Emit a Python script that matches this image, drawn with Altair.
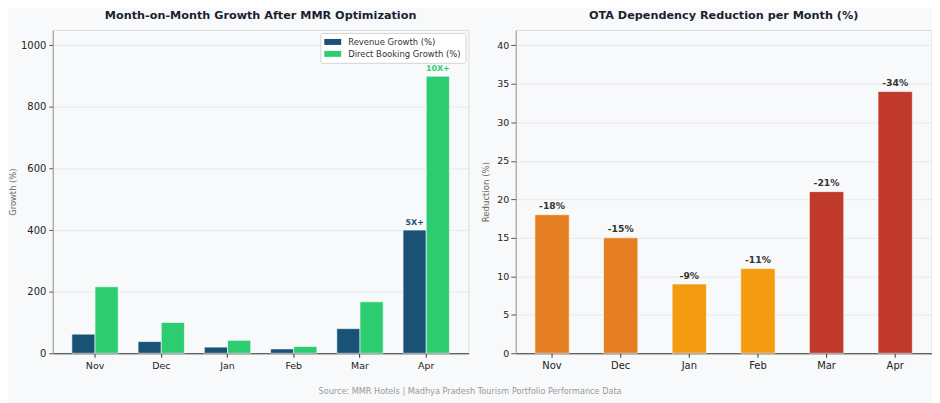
import altair as alt
import pandas as pd

months = ["Nov", "Dec", "Jan", "Feb", "Mar", "Apr"]
revenue_growth = [62, 38, 20, 14, 80, 400]
direct_growth = [216, 100, 42, 22, 167, 900]
series_names = ["Revenue Growth (%)", "Direct Booking Growth (%)"]
series_colors = ["#1A5276", "#2ECC71"]

ota_reduction = [18, 15, 9, 11, 21, 34]
ota_labels = ["-18%", "-15%", "-9%", "-11%", "-21%", "-34%"]
ota_colors = ["#E67E22", "#E67E22", "#F39C12", "#F39C12", "#C0392B", "#C0392B"]

ann_month = ["Apr", "Apr"]
ann_series = ["Revenue Growth (%)", "Direct Booking Growth (%)"]
ann_value = [400, 900]
ann_text = ["5X+", "10X+"]
ann_color = ["#1A5276", "#2ECC71"]

source_text = "Source: MMR Hotels | Madhya Pradesh Tourism Portfolio Performance Data"

BG = "#F8F9FA"
FONT = "DejaVu Sans"

rows = []
for m, r, d in zip(months, revenue_growth, direct_growth):
    rows.append({"month": m, "series": series_names[0], "value": r})
    rows.append({"month": m, "series": series_names[1], "value": d})
df_growth = pd.DataFrame(rows)
df_ann = pd.DataFrame({"month": ann_month, "series": ann_series,
                       "value": ann_value, "label": ann_text, "c": ann_color})
df_ota = pd.DataFrame({"month": months, "value": ota_reduction,
                       "label": ota_labels, "c": ota_colors})

W, H = 418, 325

x_left = alt.X("month:N", sort=months, title=None,
               scale=alt.Scale(paddingInner=0.3, paddingOuter=0.288),
               axis=alt.Axis(labelAngle=0, labelFontSize=9.5, labelColor="#222",
                             domainColor="#333", tickColor="#333", labelPadding=3,
                             tickSize=4))
y_left = alt.Y("value:Q", title="Growth (%)",
               scale=alt.Scale(domain=[0, 1050], nice=False),
               axis=alt.Axis(values=[0, 200, 400, 600, 800, 1000], format="d",
                             labelFontSize=10, labelColor="#222", labelPadding=3,
                             titleFontSize=8.4, titleColor="#666",
                             titleFontWeight="normal", domainColor="#999",
                             tickColor="#555", tickSize=4, titlePadding=3,
                             gridColor="#E3E5E8", gridWidth=0.8))

bars_left = alt.Chart(df_growth).mark_bar(stroke="white", strokeWidth=0.6).encode(
    x=x_left,
    xOffset=alt.XOffset("series:N", sort=series_names,
                        scale=alt.Scale(paddingInner=0, paddingOuter=0)),
    y=y_left,
    color=alt.Color("series:N", sort=series_names,
                    scale=alt.Scale(domain=series_names, range=series_colors),
                    legend=alt.Legend(title=None, orient="top-right", offset=3,
                                      labelFontSize=8.5, labelColor="#333",
                                      symbolType="M-1,-0.6L2.4,-0.6L2.4,0.6L-1,0.6Z",
                                      symbolSize=100, symbolStrokeWidth=0,
                                      fillColor="#FFFFFF", strokeColor="#D5D5D5",
                                      padding=4, cornerRadius=2, rowPadding=2,
                                      labelOffset=14)),
)
text_left = alt.Chart(df_ann).mark_text(dy=-7.5, fontWeight="bold", fontSize=8,
                                        font=FONT).encode(
    x=alt.X("month:N", sort=months),
    xOffset=alt.XOffset("series:N", sort=series_names),
    y=alt.Y("value:Q"),
    text="label:N",
    color=alt.Color("c:N", scale=None, legend=None),
)
left = alt.layer(bars_left, text_left).resolve_scale(color="independent").properties(
    width=W, height=H,
    title=alt.TitleParams("Month-on-Month Growth After MMR Optimization",
                          fontSize=11.3, fontWeight="bold", color="#1B1F2E",
                          offset=9))

x_right = alt.X("month:N", sort=months, title=None,
                scale=alt.Scale(paddingInner=0.5, paddingOuter=0.279),
                axis=alt.Axis(labelAngle=0, labelFontSize=10, labelColor="#222",
                              domainColor="#333", tickColor="#333", labelPadding=3,
                              tickSize=4))
y_right = alt.Y("value:Q", title="Reduction (%)",
                scale=alt.Scale(domain=[0, 42], nice=False),
                axis=alt.Axis(values=[0, 5, 10, 15, 20, 25, 30, 35, 40],
                              labelFontSize=9.5, labelColor="#222", labelPadding=2,
                              titleFontSize=8.6, titleColor="#666",
                              titleFontWeight="normal", domainColor="#999",
                              tickColor="#555", tickSize=5, titlePadding=6.5,
                              gridColor="#E3E5E8", gridWidth=0.8))
bars_right = alt.Chart(df_ota).mark_bar(stroke="white", strokeWidth=0.6).encode(
    x=x_right, y=y_right,
    color=alt.Color("c:N", scale=None, legend=None),
)
text_right = alt.Chart(df_ota).mark_text(dy=-8.5, fontWeight="bold", fontSize=9.3,
                                         color="#333", font=FONT).encode(
    x=alt.X("month:N", sort=months), y="value:Q", text="label:N")
right = alt.layer(bars_right, text_right).properties(
    width=W, height=H,
    title=alt.TitleParams("OTA Dependency Reduction per Month (%)",
                          fontSize=11.3, fontWeight="bold", color="#1B1F2E",
                          offset=9))

chart = alt.hconcat(left, right, spacing=10.5).properties(
    background=BG,
    padding={"left": 0, "top": 0, "right": 0, "bottom": 30},
    title=alt.TitleParams(source_text, orient="bottom", fontSize=8.2,
                          fontWeight="normal", color="#999", offset=17,
                          anchor="middle"),
).configure_view(stroke=None, fill=BG).configure(
    font=FONT
).configure_axis(labelFont=FONT, titleFont=FONT).configure_legend(
    labelFont=FONT).configure_title(font=FONT)

chart.save("out.html", embed_options={"renderer": "svg", "actions": False})
